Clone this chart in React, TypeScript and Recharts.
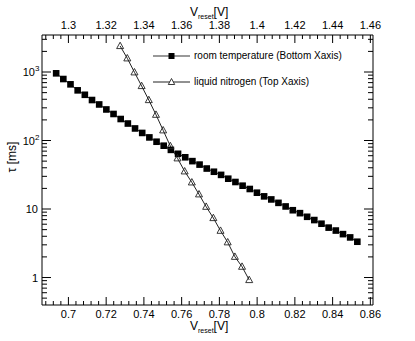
import React, { CSSProperties } from "react";
import { LineChart, Line, XAxis, YAxis } from "recharts";

// room temperature, bottom axis (V_reset in V, tau in ms)
const rtVoltage = [
    0.6935, 0.6973, 0.7011, 0.7049, 0.7087, 0.7125, 0.7163, 0.7201, 0.7239,
    0.7277, 0.7315, 0.7353, 0.7391, 0.7429, 0.7467, 0.7505, 0.7543, 0.7581,
    0.7619, 0.7657, 0.7695, 0.7733, 0.7771, 0.7809, 0.7847, 0.7885, 0.7923,
    0.7961, 0.7999, 0.8037, 0.8075, 0.8113, 0.8151, 0.8189, 0.8227, 0.8265,
    0.8303, 0.8341, 0.8379, 0.8417, 0.8455, 0.8493, 0.8531,
];
const rtTau = [
    957, 790, 661, 540, 465, 390, 336, 284, 244, 206, 177, 150, 129, 111, 96,
    84, 73, 64, 56.9, 50, 44.5, 39, 35, 31.5, 27.7, 24.8, 21.9, 19.6, 17.3,
    15.3, 13.8, 12.3, 10.9, 9.6, 8.7, 7.7, 6.9, 6.1, 5.35, 4.85, 4.3, 3.85,
    3.33,
];

// liquid nitrogen, top axis
const lnVoltage = [
    1.3274, 1.3312, 1.335, 1.3388, 1.3426, 1.3464, 1.3502, 1.354, 1.3578,
    1.3616, 1.3654, 1.3692, 1.373, 1.3768, 1.3806, 1.3844, 1.3882, 1.392,
    1.3958,
];
const lnTau = [
    2398, 1585, 990, 625, 390, 238, 141, 83, 55, 35.5, 24.5, 16.4, 10.8, 7.39,
    4.82, 3.27, 2.01, 1.44, 0.92,
];

const bottomMajor = [0.7, 0.72, 0.74, 0.76, 0.78, 0.8, 0.82, 0.84, 0.86];
const topMajor = [1.3, 1.32, 1.34, 1.36, 1.38, 1.4, 1.42, 1.44, 1.46];
const yMajor = [1, 10, 100, 1000];
const yMinor = [
    0.5, 0.6, 0.7, 0.8, 0.9, 2, 3, 4, 5, 6, 7, 8, 9, 20, 30, 40, 50, 60, 70,
    80, 90, 200, 300, 400, 500, 600, 700, 800, 900, 2000, 3000,
];

const rtData = rtVoltage.map((v, i) => ({ v, tau: rtTau[i] }));
const lnData = lnVoltage.map((v, i) => ({ v, tau: lnTau[i] }));

const FONT = "'Liberation Sans', Arial, Helvetica, sans-serif";

function withMinor(majors: number[], lo: number, hi: number) {
    const out: number[] = [];
    const step = 0.004;
    const start = majors[0] - 5 * step;
    for (let k = 0; k < 60; k++) {
        const t = +(start + k * step).toFixed(4);
        if (t >= lo && t <= hi) out.push(t);
    }
    return out;
}

const bottomTicks = withMinor(bottomMajor, 0.686, 0.8614);
const topTicks = withMinor(topMajor, 1.286, 1.4614);
const yTicks = [...yMajor, ...yMinor].sort((a, b) => a - b);

const isMajorV = (v: number) =>
    Math.abs(v / 0.02 - Math.round(v / 0.02)) < 1e-6;
const fmtV = (v: number) => String(Number(v.toFixed(2)));

function BottomTick({ x, y, payload }: any) {
    const major = isMajorV(payload.value);
    return (
        <g>
            <line x1={x} x2={x} y1={y} y2={y - (major ? 8 : 4)} stroke="#000" />
            {major && (
                <text x={x} y={y + 13} textAnchor="middle" fontSize={11} fontFamily={FONT} fill="#000">
                    {fmtV(payload.value)}
                </text>
            )}
        </g>
    );
}

function TopTick({ x, y, payload }: any) {
    const major = isMajorV(payload.value);
    return (
        <g>
            <line x1={x} x2={x} y1={y} y2={y + (major ? 8 : 4)} stroke="#000" />
            {major && (
                <text x={x} y={y - 6} textAnchor="middle" fontSize={11} fontFamily={FONT} fill="#000">
                    {fmtV(payload.value)}
                </text>
            )}
        </g>
    );
}

function LeftTick({ x, y, payload }: any) {
    const v = payload.value;
    const major = yMajor.includes(v);
    const exp = Math.round(Math.log10(v));
    return (
        <g>
            <line x1={x} x2={x + (major ? 9 : 5)} y1={y} y2={y} stroke="#000" />
            {major && (
                <text x={exp >= 2 ? x - 7 : x - 4} y={y + 4} textAnchor="end" fontSize={11} fontFamily={FONT} fill="#000">
                    {exp === 0 ? "1" : "10"}
                </text>
            )}
            {major && exp >= 2 && (
                <text x={x - 7} y={y - 1} textAnchor="start" fontSize={8} fontFamily={FONT} fill="#000">
                    {exp}
                </text>
            )}
        </g>
    );
}

function RightTick({ x, y, payload }: any) {
    const major = yMajor.includes(payload.value);
    return <line x1={x} x2={x - (major ? 9 : 5)} y1={y} y2={y} stroke="#000" />;
}

function SquareDot({ cx, cy, index }: any) {
    return <rect key={index} x={cx - 3.3} y={cy - 3.3} width={6.6} height={6.6} fill="#000" />;
}

function TriangleDot({ cx, cy, index }: any) {
    return (
        <polygon
            key={index}
            points={`${cx},${cy - 3.8} ${cx - 3.5},${cy + 2.6} ${cx + 3.5},${cy + 2.6}`}
            fill="none"
            stroke="#222"
            strokeWidth={0.9}
        />
    );
}

function VReset({ style }: { style: CSSProperties }) {
    return (
        <div style={{ ...titleStyle, ...style }}>
            V<span style={subStyle}>reset</span>[V]
        </div>
    );
}

export default function App() {
    return (
        <div style={wrapperStyle}>
            <LineChart width={415} height={341} margin={{ top: 5, right: 32, bottom: 6, left: 12 }}>
                <XAxis
                    xAxisId="bottom"
                    orientation="bottom"
                    type="number"
                    dataKey="v"
                    domain={[0.686, 0.8614]}
                    allowDataOverflow
                    ticks={bottomTicks}
                    interval={0}
                    height={30}
                    tickSize={0}
                    tickMargin={0}
                    tickLine={false}
                    axisLine={{ stroke: "#000" }}
                    tick={<BottomTick />}
                />
                <XAxis
                    xAxisId="top"
                    orientation="top"
                    type="number"
                    dataKey="v"
                    domain={[1.286, 1.4614]}
                    allowDataOverflow
                    ticks={topTicks}
                    interval={0}
                    height={30}
                    tickSize={0}
                    tickMargin={0}
                    tickLine={false}
                    axisLine={{ stroke: "#000" }}
                    tick={<TopTick />}
                />
                <YAxis
                    yAxisId="left"
                    orientation="left"
                    type="number"
                    scale="log"
                    domain={[0.397, 3470]}
                    allowDataOverflow
                    ticks={yTicks}
                    interval={0}
                    width={30}
                    tickSize={0}
                    tickMargin={0}
                    tickLine={false}
                    axisLine={{ stroke: "#000" }}
                    tick={<LeftTick />}
                />
                <YAxis
                    yAxisId="right"
                    orientation="right"
                    type="number"
                    scale="log"
                    domain={[0.397, 3470]}
                    allowDataOverflow
                    ticks={yTicks}
                    interval={0}
                    width={10}
                    tickSize={0}
                    tickMargin={0}
                    tickLine={false}
                    axisLine={{ stroke: "#000" }}
                    tick={<RightTick />}
                />
                <Line
                    data={rtData}
                    xAxisId="bottom"
                    yAxisId="left"
                    dataKey="tau"
                    stroke="#222"
                    strokeWidth={1}
                    dot={(p: any) => <SquareDot key={p.index} {...p} />}
                    isAnimationActive={false}
                />
                <Line
                    data={lnData}
                    xAxisId="top"
                    yAxisId="right"
                    dataKey="tau"
                    stroke="#222"
                    strokeWidth={1}
                    dot={(p: any) => <TriangleDot key={p.index} {...p} />}
                    isAnimationActive={false}
                />
            </LineChart>

            <VReset style={{ left: 190, top: 5 }} />
            <VReset style={{ left: 190, top: 319 }} />
            <div style={yTitleStyle}>τ [ms]</div>

            <div style={legendStyle}>
                <svg width={200} height={40} style={{ position: "absolute", left: 0, top: 0 }}>
                    <line x1={3} x2={40} y1={8} y2={8} stroke="#999" strokeWidth={2} />
                    <rect x={18.5} y={5} width={6} height={6} fill="#000" />
                    <line x1={3} x2={40} y1={34} y2={34} stroke="#222" strokeWidth={1} />
                    <polygon points="21.5,30.5 18.3,36.5 24.7,36.5" fill="#fff" stroke="#222" strokeWidth={0.9} />
                </svg>
                <div style={{ ...legendTextStyle, top: 1 }}>room temperature (Bottom Xaxis)</div>
                <div style={{ ...legendTextStyle, top: 27 }}>liquid nitrogen (Top Xaxis)</div>
            </div>
        </div>
    );
}

const wrapperStyle: CSSProperties = {
    position: "absolute",
    left: 0,
    top: 0,
    width: 415,
    height: 341,
    background: "#fff",
    fontFamily: FONT,
};

const titleStyle: CSSProperties = {
    position: "absolute",
    fontSize: 12,
    lineHeight: "14px",
    color: "#000",
    whiteSpace: "nowrap",
};

const subStyle: CSSProperties = {
    fontSize: 7,
    position: "relative",
    top: 3,
};

const yTitleStyle: CSSProperties = {
    position: "absolute",
    left: 12,
    top: 157,
    fontSize: 12,
    whiteSpace: "nowrap",
    transform: "translate(-50%, -50%) rotate(-90deg)",
};

const legendStyle: CSSProperties = {
    position: "absolute",
    left: 150,
    top: 48,
    width: 200,
    height: 40,
};

const legendTextStyle: CSSProperties = {
    position: "absolute",
    left: 44,
    fontSize: 10,
    lineHeight: "14px",
    whiteSpace: "nowrap",
};
